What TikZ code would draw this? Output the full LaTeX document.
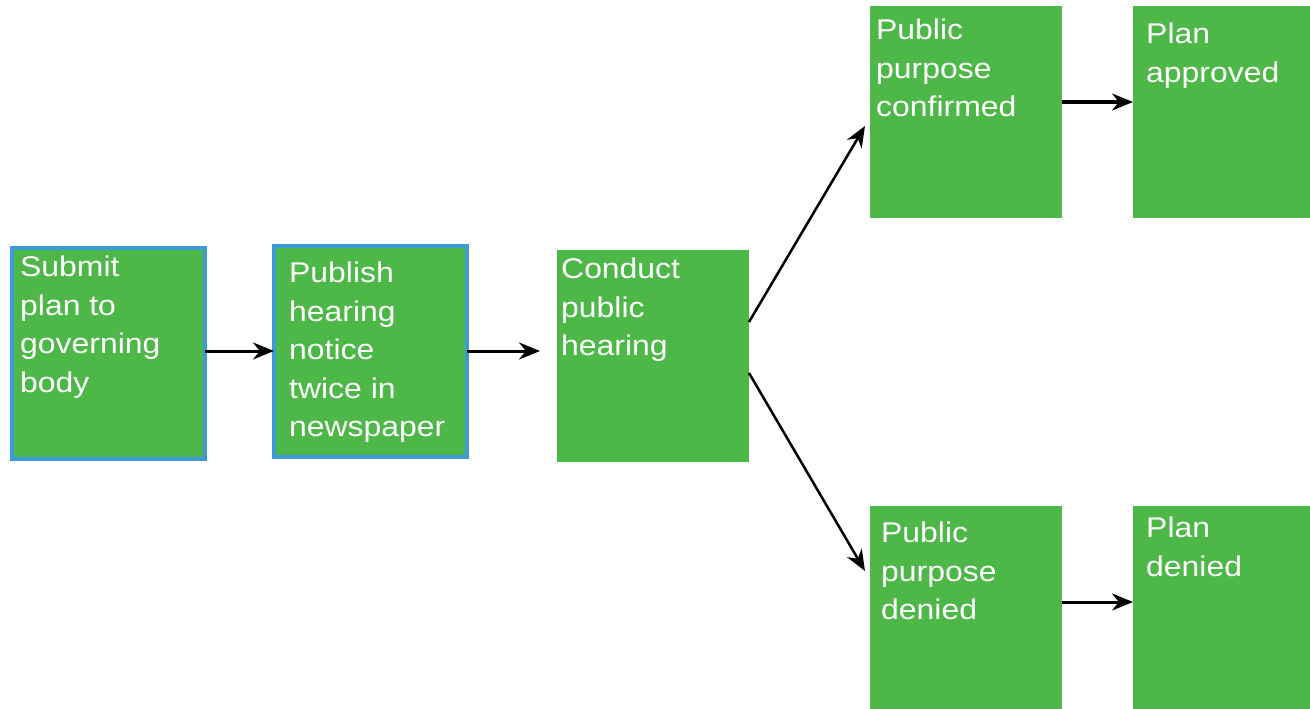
\documentclass[tikz,border=0pt]{standalone}
\usepackage{fontspec}
\setmainfont{Liberation Sans}[FakeStretch=1.12]
\usetikzlibrary{arrows.meta}
\definecolor{boxgreen}{HTML}{4DB748}
\definecolor{boxblue}{HTML}{3C9AD6}
\tikzset{
  box/.style={fill=boxgreen, draw=none, anchor=north west, inner sep=0pt, outer sep=0pt},
  bluebox/.style={box, draw=boxblue, line width=4pt},
  lbl/.style={anchor=north west, inner sep=0pt, text=white, align=left,
    font=\fontsize{28.5}{38.5}\selectfont},
  arr/.style={line width=3pt, -{Stealth[length=21pt,width=17pt]}},
  darr/.style={line width=2.5pt, -{Stealth[length=21pt,width=17pt]}}
}
\begin{document}
\begin{tikzpicture}[x=1pt,y=-1pt]
\useasboundingbox (0,0) rectangle (1310,709);
% boxes
\node[bluebox, minimum width=193pt, minimum height=211pt] (b1) at (12,248) {};
\node[bluebox, minimum width=193pt, minimum height=211pt] (b2) at (274,246) {};
\node[box, minimum width=192pt, minimum height=212pt] (b3) at (557,250) {};
\node[box, minimum width=192pt, minimum height=212pt] (b4) at (870,6) {};
\node[box, minimum width=177pt, minimum height=212pt] (b5) at (1133,6) {};
\node[box, minimum width=192pt, minimum height=203pt] (b6) at (870,506) {};
\node[box, minimum width=177pt, minimum height=203pt] (b7) at (1133,506) {};
% labels
\node[lbl] (t1) at (20,256) {Submit\\plan to\\governing\\body};
\node[lbl] (t2) at (289,262) {Publish\\hearing\\notice\\twice in\\newspaper};
\node[lbl] (t3) at (561,258) {Conduct\\public\\hearing};
\node[lbl] (t4) at (876,19) {Public\\purpose\\confirmed};
\node[lbl] (t5) at (1146,23) {Plan\\approved};
\node[lbl] (t6) at (881,522) {Public\\purpose\\denied};
\node[lbl] (t7) at (1146,517) {Plan\\denied};
% connector ends
\coordinate (e23) at (540,351);
\coordinate (s3u) at (749,322);
\coordinate (e3u) at (865,126);
\coordinate (s3d) at (749,373);
\coordinate (e3d) at (865,571);
% connectors
\draw[arr] (b1.east |- 0,351) -- (b2.west |- 0,351);
\draw[arr] (b2.east |- 0,351) -- (e23);
\draw[darr] (s3u) -- (e3u);
\draw[darr] (s3d) -- (e3d);
\draw[arr] (b4.east |- 0,102) -- (b5.west |- 0,102);
\draw[arr] (b6.east |- 0,602) -- (b7.west |- 0,602);
\end{tikzpicture}
\end{document}
